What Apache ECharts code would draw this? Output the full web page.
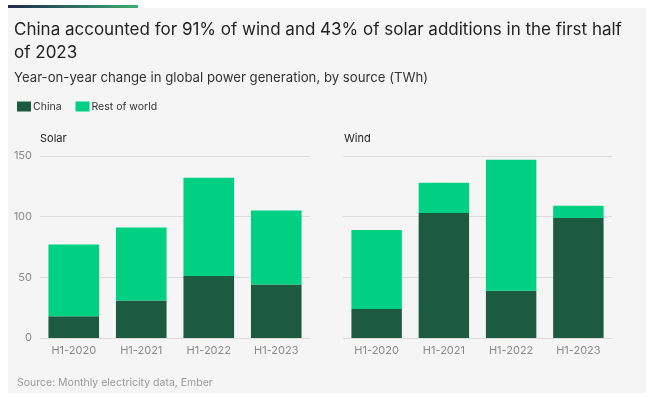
<!DOCTYPE html>
<html>
<head>
<meta charset="utf-8">
<script src="https://cdn.jsdelivr.net/npm/echarts@6/dist/echarts.min.js"></script>
<style>
  html, body { margin: 0; padding: 0; background: #ffffff; }
  #main { width: 652px; height: 397px; }
</style>
</head>
<body>
<div id="main"></div>
<script>
// data (TWh)
var periods = ['H1-2020', 'H1-2021', 'H1-2022', 'H1-2023'];
var solarChina = [18, 31, 51, 44];
var solarRest = [59, 60, 81, 61];
var windChina = [24, 103, 39, 99];
var windRest = [65, 25, 108, 10];
var yTicks = [0, 50, 100, 150];

var chinaColor = '#1c5b41';
var restColor = '#00d084';
var fontName = 'Inter, "Noto Sans", sans-serif';

var myChart = echarts.init(document.getElementById('main'));

// 两个面板共用的坐标轴设置
function makeX(idx){
    return {
        type: 'category',
        gridIndex: idx,
        data: periods,
        axisTick: { show: false },
        axisLine: { show: false },
        axisLabel: { color: '#8a8a8a', fontSize: 11, fontFamily: fontName, margin: 7 }
    };
}
function makeY(idx, showLabel){
    return {
        type: 'value',
        gridIndex: idx,
        min: yTicks[0],
        max: yTicks[yTicks.length - 1],
        interval: 50,
        axisLabel: { show: showLabel, color: '#8a8a8a', fontSize: 11, fontFamily: fontName, margin: 8 },
        splitLine: { lineStyle: { color: '#dcdcdc', width: 1 } },
        axisLine: { show: false },
        axisTick: { show: false }
    };
}
function makeBar(name, data, color, idx){
    return {
        name: name,
        type: 'bar',
        stack: 'total' + idx,
        xAxisIndex: idx,
        yAxisIndex: idx,
        data: data,
        barCategoryGap: '25%',
        itemStyle: { color: color },
        silent: true
    };
}
function label(text, x, y, size, color){
    return {
        text: text, left: x, top: y, padding: 0,
        textStyle: { fontFamily: fontName, fontSize: size, fontWeight: 'normal', color: color, lineHeight: 23 }
    };
}

var option = {
    animation: false,
    backgroundColor: '#ffffff',
    graphic: [
        {
            type: 'rect',
            shape: { x: 8, y: 8, width: 638, height: 385 },
            style: { fill: '#f5f5f5' },
            z: -10
        },
        {
            type: 'rect',
            shape: { x: 8, y: 5, width: 130, height: 3 },
            style: {
                fill: new echarts.graphic.LinearGradient(0, 0, 1, 0, [
                    { offset: 0, color: '#1b2a4a' },
                    { offset: 1, color: '#3fae74' }
                ])
            }
        }
    ],
    title: [
        label('China accounted for 91% of wind and 43% of solar additions in the first half\nof 2023', 14, 18, 17, '#222222'),
        label('Year-on-year change in global power generation, by source (TWh)', 14, 67, 13.2, '#333333'),
        label('Solar', 40, 127, 11, '#222222'),
        label('Wind', 344, 127, 11, '#222222'),
        label('Source: Monthly electricity data, Ember', 17, 371, 10.5, '#9a9a9a')
    ],
    legend: {
        left: 12, top: 96,
        itemWidth: 14, itemHeight: 10, itemGap: 14,
        icon: 'rect',
        selectedMode: false,
        data: ['China', 'Rest of world'],
        textStyle: { fontFamily: fontName, fontSize: 10.5, color: '#333333', padding: [0, 0, 0, -3] }
    },
    grid: [
        { left: 40, top: 156, width: 270, height: 182 },
        { left: 343, top: 156, width: 269, height: 182 }
    ],
    xAxis: [makeX(0), makeX(1)],
    yAxis: [makeY(0, true), makeY(1, false)],
    series: [
        makeBar('China', solarChina, chinaColor, 0),
        makeBar('Rest of world', solarRest, restColor, 0),
        makeBar('China', windChina, chinaColor, 1),
        makeBar('Rest of world', windRest, restColor, 1)
    ]
};

myChart.setOption(option);
</script>
</body>
</html>
